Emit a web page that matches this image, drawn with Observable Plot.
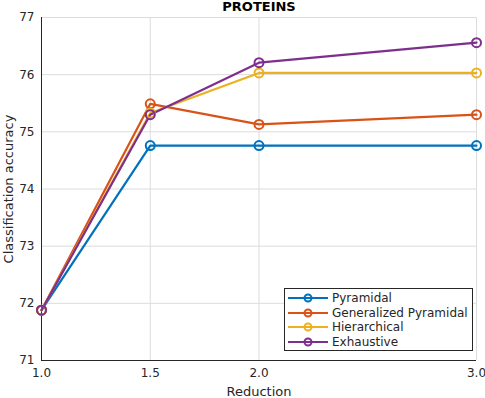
<!DOCTYPE html>
<html><head><meta charset="utf-8">
<script src="https://cdn.jsdelivr.net/npm/d3@7"></script>
<script src="https://cdn.jsdelivr.net/npm/@observablehq/plot@0.6"></script>
<style>
body{margin:0;background:#fff;font-family:"DejaVu Sans",sans-serif;}
#wrap{position:relative;width:485px;height:398px;}
#legend{position:absolute;left:284px;top:288px;width:189px;height:61px;border:1px solid #262626;background:#fff;font-size:12px;color:#262626;padding-top:2px;box-sizing:border-box;height:63px;}
.row{height:14.6px;display:flex;align-items:center;}
.row svg{margin-left:3px;margin-right:4px}
</style></head>
<body><div id="wrap"><div id="chart"></div><div id="legend"></div></div>
<script>
const reductions = [1.0, 1.5, 2.0, 3.0];
const seriesNames = ["Pyramidal", "Generalized Pyramidal", "Hierarchical", "Exhaustive"];
const pyramidal = [71.88, 74.76, 74.76, 74.76];
const generalized = [71.88, 75.49, 75.13, 75.30];
const hierarchical = [71.88, 75.33, 76.03, 76.03];
const exhaustive = [71.88, 75.30, 76.21, 76.56];
const colors = ["#0072BD", "#D95319", "#EDB120", "#7E2F8E"];
const yTicks = [71, 72, 73, 74, 75, 76, 77];
const xTicks = [1.0, 1.5, 2.0, 3.0];

const values = [pyramidal, generalized, hierarchical, exhaustive];
const data = [];
seriesNames.forEach((s, i) => reductions.forEach((r, j) => data.push({series: s, x: r, y: values[i][j]})));

const chart = Plot.plot({
  width: 485, height: 398,
  marginLeft: 41, marginRight: 9, marginTop: 17, marginBottom: 38,
  style: {fontFamily: "DejaVu Sans", fontSize: "12px", color: "#262626", background: "#fff"},
  x: {domain: [1, 3], ticks: xTicks, label: null},
  y: {domain: [71, 77], ticks: yTicks, label: null},
  color: {domain: seriesNames, range: colors},
  marks: [
    Plot.gridX(xTicks, {stroke: "#dcdcdc", strokeOpacity: 1}),
    Plot.gridY(yTicks, {stroke: "#dcdcdc", strokeOpacity: 1}),
    Plot.axisX(xTicks, {tickSize: 0, tickPadding: 8, tickFormat: d3.format(".1f"), fontSize: 12, label: null}),
    Plot.axisY(yTicks, {tickSize: 0, tickPadding: 7, tickFormat: d3.format("d"), fontSize: 12, label: null}),
    Plot.ruleX([1], {stroke: "#262626"}),
    Plot.ruleY([71], {stroke: "#262626"}),
    Plot.line(data, {x: "x", y: "y", stroke: "series", z: "series", strokeWidth: 2.2}),
    Plot.dot(data, {x: "x", y: "y", stroke: "series", r: 4.5, strokeWidth: 2, fill: "none"}),
    Plot.text(["PROTEINS"], {frameAnchor: "top", lineAnchor: "middle", dy: -11, fontWeight: "bold", fontSize: 13, fill: "#000"}),
    Plot.text(["Reduction"], {frameAnchor: "bottom", lineAnchor: "middle", dy: 31, fontSize: 13, fill: "#262626"}),
    Plot.text(["Classification accuracy"], {frameAnchor: "left", textAnchor: "middle", lineAnchor: "middle", dx: -33, rotate: -90, fontSize: 13, fill: "#262626"})
  ]
});
document.getElementById("chart").appendChild(chart);

const legend = document.getElementById("legend");
seriesNames.forEach((s, i) => {
  const row = document.createElement("div");
  row.className = "row";
  row.innerHTML = `<svg width="40" height="10"><line x1="0" x2="40" y1="5" y2="5" stroke="${colors[i]}" stroke-width="2"/><circle cx="20" cy="5" r="3.5" fill="none" stroke="${colors[i]}" stroke-width="2"/></svg><span>${s}</span>`;
  legend.appendChild(row);
});
</script></body></html>
